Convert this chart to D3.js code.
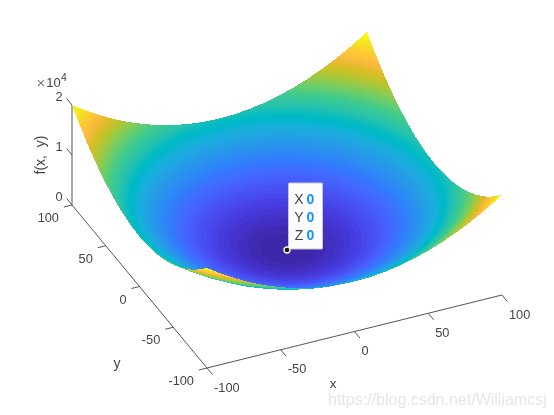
<!DOCTYPE html>
<html>
<head>
<meta charset="utf-8">
<script src="https://cdn.jsdelivr.net/npm/d3@7"></script>
<style>
html,body{margin:0;padding:0;background:#fff;}
svg{display:block;filter:blur(0.45px);}
text{font-family:"Liberation Sans",Arial,sans-serif;}
</style>
</head>
<body>
<svg id="chart" width="554" height="415"></svg>
<script>
const gridX = [-100,-90,-80,-70,-60,-50,-40,-30,-20,-10,0,10,20,30,40,50,60,70,80,90,100];
const gridY = [-100,-90,-80,-70,-60,-50,-40,-30,-20,-10,0,10,20,30,40,50,60,70,80,90,100];
const zGrid = [
[20000,18100,16400,14900,13600,12500,11600,10900,10400,10100,10000,10100,10400,10900,11600,12500,13600,14900,16400,18100,20000],
[18100,16200,14500,13000,11700,10600,9700,9000,8500,8200,8100,8200,8500,9000,9700,10600,11700,13000,14500,16200,18100],
[16400,14500,12800,11300,10000,8900,8000,7300,6800,6500,6400,6500,6800,7300,8000,8900,10000,11300,12800,14500,16400],
[14900,13000,11300,9800,8500,7400,6500,5800,5300,5000,4900,5000,5300,5800,6500,7400,8500,9800,11300,13000,14900],
[13600,11700,10000,8500,7200,6100,5200,4500,4000,3700,3600,3700,4000,4500,5200,6100,7200,8500,10000,11700,13600],
[12500,10600,8900,7400,6100,5000,4100,3400,2900,2600,2500,2600,2900,3400,4100,5000,6100,7400,8900,10600,12500],
[11600,9700,8000,6500,5200,4100,3200,2500,2000,1700,1600,1700,2000,2500,3200,4100,5200,6500,8000,9700,11600],
[10900,9000,7300,5800,4500,3400,2500,1800,1300,1000,900,1000,1300,1800,2500,3400,4500,5800,7300,9000,10900],
[10400,8500,6800,5300,4000,2900,2000,1300,800,500,400,500,800,1300,2000,2900,4000,5300,6800,8500,10400],
[10100,8200,6500,5000,3700,2600,1700,1000,500,200,100,200,500,1000,1700,2600,3700,5000,6500,8200,10100],
[10000,8100,6400,4900,3600,2500,1600,900,400,100,0,100,400,900,1600,2500,3600,4900,6400,8100,10000],
[10100,8200,6500,5000,3700,2600,1700,1000,500,200,100,200,500,1000,1700,2600,3700,5000,6500,8200,10100],
[10400,8500,6800,5300,4000,2900,2000,1300,800,500,400,500,800,1300,2000,2900,4000,5300,6800,8500,10400],
[10900,9000,7300,5800,4500,3400,2500,1800,1300,1000,900,1000,1300,1800,2500,3400,4500,5800,7300,9000,10900],
[11600,9700,8000,6500,5200,4100,3200,2500,2000,1700,1600,1700,2000,2500,3200,4100,5200,6500,8000,9700,11600],
[12500,10600,8900,7400,6100,5000,4100,3400,2900,2600,2500,2600,2900,3400,4100,5000,6100,7400,8900,10600,12500],
[13600,11700,10000,8500,7200,6100,5200,4500,4000,3700,3600,3700,4000,4500,5200,6100,7200,8500,10000,11700,13600],
[14900,13000,11300,9800,8500,7400,6500,5800,5300,5000,4900,5000,5300,5800,6500,7400,8500,9800,11300,13000,14900],
[16400,14500,12800,11300,10000,8900,8000,7300,6800,6500,6400,6500,6800,7300,8000,8900,10000,11300,12800,14500,16400],
[18100,16200,14500,13000,11700,10600,9700,9000,8500,8200,8100,8200,8500,9000,9700,10600,11700,13000,14500,16200,18100],
[20000,18100,16400,14900,13600,12500,11600,10900,10400,10100,10000,10100,10400,10900,11600,12500,13600,14900,16400,18100,20000]
];
const xTicks = [-100,-50,0,50,100];
const yTicks = [-100,-50,0,50,100];
const zTicks = [0,10000,20000];
const zTickLabels = ["0","1","2"];
const tipPoint = {x:0,y:0,z:0};
const tipLabels = ["X","Y","Z"];
const tipValues = ["0","0","0"];
const parula = [[.2422,.1504,.6603],[.2504,.1650,.7076],[.2578,.1818,.7511],[.2647,.1978,.7952],[.2706,.2147,.8364],[.2751,.2342,.8710],[.2783,.2559,.8991],[.2803,.2782,.9221],[.2813,.3006,.9414],[.2810,.3228,.9579],[.2795,.3447,.9717],[.2760,.3667,.9829],[.2699,.3892,.9906],[.2602,.4123,.9952],[.2440,.4358,.9988],[.2206,.4603,.9973],[.1963,.4847,.9892],[.1834,.5074,.9798],[.1786,.5289,.9682],[.1764,.5499,.9520],[.1687,.5703,.9359],[.1540,.5902,.9218],[.1460,.6091,.9079],[.1380,.6276,.8973],[.1248,.6459,.8883],[.1113,.6635,.8763],[.0952,.6798,.8598],[.0689,.6948,.8394],[.0297,.7082,.8163],[.0036,.7203,.7917],[.0067,.7312,.7660],[.0433,.7411,.7394],[.0964,.7500,.7120],[.1408,.7584,.6842],[.1717,.7670,.6554],[.1938,.7758,.6251],[.2161,.7843,.5923],[.2470,.7918,.5567],[.2906,.7973,.5188],[.3406,.8008,.4789],[.3909,.8029,.4354],[.4456,.8024,.3909],[.5044,.7993,.3480],[.5616,.7942,.3045],[.6174,.7876,.2612],[.6720,.7793,.2227],[.7242,.7698,.1910],[.7738,.7598,.1646],[.8203,.7498,.1535],[.8634,.7406,.1596],[.9035,.7330,.1774],[.9393,.7288,.2100],[.9728,.7298,.2394],[.9956,.7434,.2371],[.9970,.7659,.2199],[.9952,.7861,.1990],[.9892,.8135,.1846],[.9788,.8393,.1677],[.9697,.8637,.1492],[.9626,.8903,.1265],[.9589,.9141,.1068],[.9598,.9419,.0833],[.9661,.9514,.0620],[.9763,.9831,.0538]];

const svg = d3.select("#chart");
const axisColor = "#555", textColor = "#444";

// Orthographic projection of the box, each data axis through its own pair of scales
const X0 = 287, Y0 = 250;
const xToPx = d3.scaleLinear().domain([-100,100]).range([-147.5,147.5]);
const xToPy = d3.scaleLinear().domain([-100,100]).range([36.5,-36.5]);
const yToPx = d3.scaleLinear().domain([-100,100]).range([67.5,-67.5]);
const yToPy = d3.scaleLinear().domain([-100,100]).range([81.5,-81.5]);
const zToPy = d3.scaleLinear().domain([0,20000]).range([0,-100]);
const project = (x,y,z) => [X0 + xToPx(x) + yToPx(y), Y0 + xToPy(x) + yToPy(y) + zToPy(z)];

const colors = parula.map(c => d3.rgb(c[0]*255,c[1]*255,c[2]*255).formatHex());
const bandZ = d3.scaleLinear().domain([0,colors.length]).range([0,20000]);

// Shaded surface: every triangle of the grid is cut along the colour-band limits.
const mix = (a,b,t) => a.map((v,k) => v+(b[k]-v)*t);
function clip(poly, limit, keepAbove) {
  const out = [];
  const inside = p => keepAbove ? p[2] >= limit : p[2] <= limit;
  poly.forEach((p,i) => {
    const q = poly[(i+1)%poly.length];
    const pi = inside(p), qi = inside(q);
    if (pi) out.push(p);
    if (pi !== qi) out.push(mix(p,q,(limit-p[2])/(q[2]-p[2])));
  });
  return out;
}
const facets = [];
function addTriangle(tri) {
  const zs = tri.map(p => p[2]);
  const first = Math.max(0, Math.floor(bandZ.invert(d3.min(zs))));
  const last = Math.min(colors.length-1, Math.floor(bandZ.invert(d3.max(zs))));
  for (let b = first; b <= last; b++) {
    let poly = clip(tri, bandZ(b), true);
    if (poly.length) poly = clip(poly, bandZ(b+1), false);
    if (poly.length >= 3) facets.push({pts:poly.map(p => project(p[0],p[1],p[2])), fill:colors[b]});
  }
}
const SUB = 2;
for (let j = gridY.length-2; j >= 0; j--) {
  for (let i = gridX.length-2; i >= 0; i--) {
    const x0 = gridX[i], x1 = gridX[i+1], y0 = gridY[j], y1 = gridY[j+1];
    const z00 = zGrid[j][i], z10 = zGrid[j][i+1], z01 = zGrid[j+1][i], z11 = zGrid[j+1][i+1];
    const at = (u,v) => [x0+(x1-x0)*u, y0+(y1-y0)*v, (1-u)*(1-v)*z00 + u*(1-v)*z10 + (1-u)*v*z01 + u*v*z11];
    for (let b = SUB-1; b >= 0; b--) {
      for (let a = SUB-1; a >= 0; a--) {
        const p00 = at(a/SUB,b/SUB), p10 = at((a+1)/SUB,b/SUB), p01 = at(a/SUB,(b+1)/SUB), p11 = at((a+1)/SUB,(b+1)/SUB);
        addTriangle([p10,p11,p01]);
        addTriangle([p00,p10,p01]);
      }
    }
  }
}

// Axes
const axes = svg.append("g").attr("fill","none").attr("stroke",axisColor).attr("stroke-width",1);
const seg = (a,b) => axes.append("line").attr("x1",a[0]).attr("y1",a[1]).attr("x2",b[0]).attr("y2",b[1]);
seg(project(-100,-100,0), project(100,-100,0));
seg(project(-100,-100,0), project(-100,100,0));
seg(project(-100,100,0), project(-100,100,20000));
const TICK_ALONG_Y = 8, TICK_ALONG_X = 5.5;
xTicks.forEach(t => seg(project(t,-100,0), project(t,-100-TICK_ALONG_Y,0)));
yTicks.forEach(t => seg(project(-100,t,0), project(-100-TICK_ALONG_X,t,0)));
zTicks.forEach(t => seg(project(-100,100,t), project(-100,100+TICK_ALONG_Y,t)));

svg.append("g").attr("shape-rendering","crispEdges").selectAll("path").data(facets).join("path")
  .attr("d", d => "M" + d.pts.map(p => p[0].toFixed(2)+","+p[1].toFixed(2)).join("L") + "Z")
  .attr("fill", d => d.fill);

// Tick labels
const labels = svg.append("g").attr("fill",textColor).attr("font-size",12.8);
const label = (x,y,s,anchor) => labels.append("text").attr("x",x).attr("y",y)
  .attr("text-anchor",anchor||"middle").attr("dominant-baseline","central").text(s);
xTicks.forEach(t => { const a = project(t,-100,0); label(a[0]+7, a[1]+19, String(t), "start"); });
yTicks.forEach(t => { const a = project(-100,t,0); label(a[0]-13, a[1]+12.5, String(t), "end"); });
zTicks.forEach((t,i) => { const a = project(-100,100,t); label(a[0]-13, a[1]-9, zTickLabels[i], "middle"); });

// Exponent
label(41, 82.5, "\u00d7", "middle").attr("fill","#777").attr("font-size",15);
label(53.5, 82, "10", "middle").attr("font-size",13);
label(64, 77, "4", "middle").attr("font-size",10.5);

// Axis titles
label(333, 383, "x").attr("font-size",13.5);
label(117, 362.5, "y").attr("font-size",14);
labels.append("text").attr("transform","translate(40,155) rotate(-90)")
  .attr("font-size",14).attr("text-anchor","middle").attr("dominant-baseline","central")
  .style("white-space","pre").text("f(x,  y)");

// Data tip
const tip = project(tipPoint.x, tipPoint.y, tipPoint.z);
svg.append("rect").attr("x",tip[0]+1.5).attr("y",tip[1]-67).attr("width",34).attr("height",66)
  .attr("fill","#fdfdff").attr("stroke","#c8c8cc").attr("stroke-width",1).attr("rx",1);
const tipG = svg.append("g").attr("font-size",14);
tipLabels.forEach((s,i) => {
  const py = tip[1]-51+i*18;
  tipG.append("text").attr("x",tip[0]+12).attr("y",py).attr("text-anchor","middle")
    .attr("dominant-baseline","central").attr("fill",textColor).text(s);
  tipG.append("text").attr("x",tip[0]+23.5).attr("y",py).attr("text-anchor","middle")
    .attr("dominant-baseline","central").attr("fill","#0a96ff").attr("font-weight","bold").text(tipValues[i]);
});
svg.append("circle").attr("cx",tip[0]).attr("cy",tip[1]).attr("r",3)
  .attr("fill","#1a1a1a").attr("stroke","#f4f4ec").attr("stroke-width",1.4);

// Watermark
svg.append("text").attr("x",328).attr("y",399).attr("dominant-baseline","central")
  .attr("font-size",16).attr("fill","#e6e6e6").text("https://blog.csdn.net/Williamcsj");
</script>
</body>
</html>
